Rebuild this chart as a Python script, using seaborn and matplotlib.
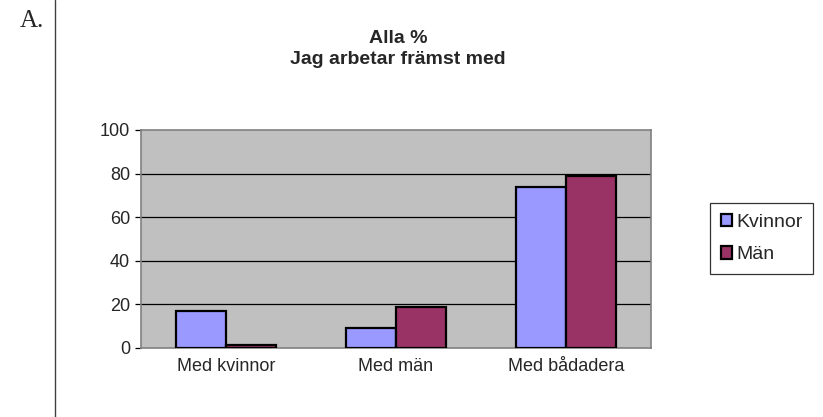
import pandas as pd
import matplotlib
matplotlib.use("Agg")
import matplotlib.pyplot as plt
from matplotlib.lines import Line2D
import seaborn as sns

categories = ["Med kvinnor", "Med män", "Med bådadera"]
kvinnor = [17, 9, 74]
man = [1.5, 19, 79]
series = ["Kvinnor", "Män"]
yticks = [0, 20, 40, 60, 80, 100]

df = pd.DataFrame({
    "kategori": categories * 2,
    "kon": ["Kvinnor"] * 3 + ["Män"] * 3,
    "procent": kvinnor + man,
})

sns.set_theme(style="white")
plt.rcParams["font.family"] = ["Liberation Sans", "DejaVu Sans"]

fig = plt.figure(figsize=(8.23, 4.17), dpi=100)
ax = fig.add_axes([141 / 823, 69 / 417, 510 / 823, 218 / 417])
ax.set_facecolor("#C0C0C0")

palette = {"Kvinnor": "#9999FF", "Män": "#993366"}
sns.barplot(data=df, x="kategori", y="procent", hue="kon", order=categories,
            hue_order=series, palette=palette, width=0.59, saturation=1,
            edgecolor="black", linewidth=1.6, ax=ax, zorder=3)

ax.set_ylim(0, 100)
ax.set_xlim(-0.5, 2.5)
ax.set_yticks(yticks)
ax.set_yticklabels([str(t) for t in yticks], fontsize=13)
for y in yticks[1:-1]:
    ax.axhline(y, color="black", linewidth=0.9, zorder=1)

ax.set_xticks(range(3))
ax.set_xticklabels(categories, fontsize=13)
ax.tick_params(axis="x", which="major", length=0, pad=7)
ax.set_xticks([-0.5, 0.5, 1.5, 2.5], minor=True)
ax.tick_params(axis="x", which="minor", length=5, width=0.9, color="black", direction="out")
ax.tick_params(axis="y", length=4, width=0.9, color="black", direction="out", left=True, pad=4)
ax.set_xlabel("")
ax.set_ylabel("")

for side in ["top", "right", "left", "bottom"]:
    ax.spines[side].set_color("#808080")
    ax.spines[side].set_linewidth(1.2)

fig.text(398 / 823, 1 - 49 / 417, "Alla %\nJag arbetar främst med", ha="center", va="center",
         fontsize=14, fontweight="bold", linespacing=1.25)

leg = ax.legend(loc="upper left", bbox_to_anchor=(710 / 823, 1 - 203 / 417),
                bbox_transform=fig.transFigure, frameon=True, fontsize=14,
                handlelength=0.6, handleheight=0.6, handletextpad=0.2,
                labelspacing=0.8, borderpad=0.55, borderaxespad=0, fancybox=False)
leg.get_frame().set_edgecolor("black")
leg.get_frame().set_linewidth(0.9)
for h in leg.legend_handles:
    h.set_edgecolor("black")
    h.set_linewidth(1.6)

fig.add_artist(Line2D([55 / 823, 55 / 823], [0, 1], color="#404040", linewidth=1.0,
                      transform=fig.transFigure))
fig.text(20 / 823, 1 - 21 / 417, "A.", ha="left", va="center", fontsize=18,
         family=["Liberation Serif", "DejaVu Serif"])

fig.savefig("out.png", dpi=100)
